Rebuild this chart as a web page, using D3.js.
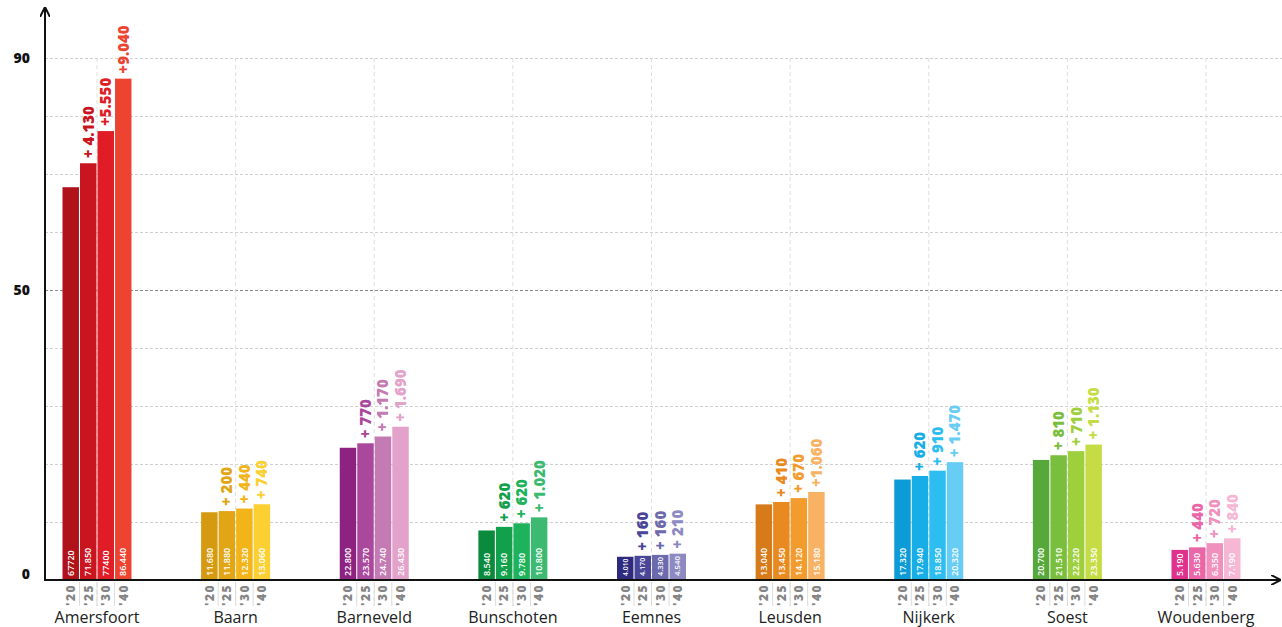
<!DOCTYPE html>
<html>
<head>
<meta charset="utf-8">
<script src="https://cdn.jsdelivr.net/npm/d3@7"></script>
<style>
  body { margin: 0; background: #fff; }
  svg { display: block; }
</style>
</head>
<body>
<div id="chart"></div>
<script>
// gemeenten + jaren
const gemeenten = ["Amersfoort", "Baarn", "Barneveld", "Bunschoten", "Eemnes", "Leusden", "Nijkerk", "Soest", "Woudenberg"]
const jaren = ["'20", "'25", "'30", "'40"]

// inwoners (x 1000) per jaar
const inw2020 = [67.72, 11.68, 22.80, 8.54, 4.01, 13.04, 17.32, 20.70, 5.19]
const inw2025 = [71.85, 11.88, 23.57, 9.16, 4.17, 13.45, 17.94, 21.51, 5.63]
const inw2030 = [77.40, 12.32, 24.74, 9.78, 4.33, 14.12, 18.85, 22.22, 6.35]
const inw2040 = [86.44, 13.06, 26.43, 10.80, 4.54, 15.18, 20.32, 23.35, 7.19]

// labels zoals in de plaat
const labels2020 = ["67720", "11.680", "22.800", "8.540", "4.010", "13.040", "17.320", "20.700", "5.190"]
const labels2025 = ["71.850", "11.880", "23.570", "9.160", "4.170", "13.450", "17.940", "21.510", "5.630"]
const labels2030 = ["77400", "12.320", "24.740", "9.780", "4.330", "14.120", "18.850", "22.220", "6.350"]
const labels2040 = ["86.440", "13.060", "26.430", "10.800", "4.540", "15.180", "20.320", "23.350", "7.190"]

// groei t.o.v. vorige periode
const groei2025 = ["+ 4.130", "+ 200", "+ 770", "+ 620", "+ 160", "+ 410", "+ 620", "+ 810", "+ 440"]
const groei2030 = ["+5.550", "+ 440", "+ 1.170", "+ 620", "+ 160", "+ 670", "+ 910", "+ 710", "+ 720"]
const groei2040 = ["+9.040", "+ 740", "+ 1.690", "+ 1.020", "+ 210", "+1.060", "+ 1.470", "+ 1.130", "+ 840"]

const yTicks = [0, 50, 90]

// kleuren per gemeente (donker -> licht)
const kleuren = [
    ["#b0121a", "#c9151f", "#e01d27", "#ec4431"],
    ["#d59a10", "#e2a513", "#f2b418", "#fcd033"],
    ["#8d2280", "#a9489c", "#c47ab3", "#e3a2ca"],
    ["#0a8a3d", "#13a04d", "#1db25b", "#3cba72"],
    ["#2e2b7f", "#4a4697", "#6d69ad", "#8d8ac1"],
    ["#d77a19", "#e98a21", "#f39b2d", "#f7b263"],
    ["#0c9bd6", "#17aee7", "#2dbdf0", "#68cdf5"],
    ["#57a83b", "#79bf3d", "#9ecf3d", "#c5dc45"],
    ["#e0318d", "#eb65a9", "#f091bd", "#f5b7d3"]
]

const W = 1282, H = 627
const margin = { top: 10, right: 2, bottom: 47, left: 45 }

const svg = d3.select("#chart")
    .append("svg")
    .attr("width", W)
    .attr("height", H)
    .style("font-family", "'Open Sans', sans-serif")

const x = d3.scalePoint()
    .domain(gemeenten)
    .range([97, 1206])

const xJaar = d3.scaleBand()
    .domain(jaren)
    .range([-34.5, 34.5])
    .paddingInner(0.06)

const y = d3.scaleLinear()
    .domain([0, 90])
    .range([580, 58])

// data in rijen
const data = gemeenten.map((g, i) => {
    const vals = [inw2020[i], inw2025[i], inw2030[i], inw2040[i]]
    const labs = [labels2020[i], labels2025[i], labels2030[i], labels2040[i]]
    const groei = [null, groei2025[i], groei2030[i], groei2040[i]]
    return {
        name: g,
        bars: jaren.map((j, k) => ({
            jaar: j,
            value: vals[k],
            label: labs[k],
            groei: groei[k],
            color: kleuren[i][k]
        }))
    }
})

// horizontale grid
svg.append("g")
    .attr("transform", "translate(" + margin.left + ",0)")
    .call(d3.axisRight(y).tickValues(d3.range(10, 100, 10)).tickSize(W - margin.left).tickFormat(""))
    .call(g => g.select(".domain").remove())
    .call(g => g.selectAll(".tick line")
        .attr("stroke", d => d === 50 ? "#8a8a8a" : "#cfcfcf")
        .attr("stroke-width", d => d === 50 ? 1.2 : 1)
        .attr("stroke-dasharray", "3,2"))

// verticale grid door het midden van elke gemeente
svg.append("g")
    .selectAll("line")
    .data(gemeenten)
    .enter()
    .append("line")
    .attr("x1", d => x(d))
    .attr("x2", d => x(d))
    .attr("y1", y(90))
    .attr("y2", 606)
    .attr("stroke", "#dedede")
    .attr("stroke-dasharray", "4,3")

// groepen
const groep = svg.selectAll(".groep")
    .data(data)
    .enter()
    .append("g")
    .attr("class", "groep")
    .attr("transform", d => "translate(" + x(d.name) + ",0)")

// scheidingslijntjes onder de as
groep.selectAll(".sep")
    .data(jaren.slice(1))
    .enter()
    .append("line")
    .attr("x1", d => xJaar(d) - 0.5)
    .attr("x2", d => xJaar(d) - 0.5)
    .attr("y1", 582)
    .attr("y2", 606)
    .attr("stroke", "#dcdcdc")

// staven
groep.selectAll("rect")
    .data(d => d.bars)
    .enter()
    .append("rect")
    .attr("x", d => xJaar(d.jaar))
    .attr("width", xJaar.bandwidth())
    .attr("y", d => y(d.value))
    .attr("height", d => y(0) - y(d.value))
    .attr("fill", d => d.color)

// waarden in de staven
groep.selectAll(".waarde")
    .data(d => d.bars)
    .enter()
    .append("text")
    .attr("class", "waarde")
    .attr("transform", d => "translate(" + (xJaar(d.jaar) + xJaar.bandwidth() / 2) + "," + (y(0) - 4) + ") rotate(-90)")
    .attr("dy", "0.35em")
    .text(d => d.label)
    .style("fill", "white")
    .style("font-weight", 600)
    .style("font-size", d => Math.min(9, (y(0) - y(d.value)) / 3.4) + "px")

// groei boven de staven
groep.selectAll(".groei")
    .data(d => d.bars.filter(b => b.groei))
    .enter()
    .append("text")
    .attr("class", "groei")
    .attr("transform", d => "translate(" + (xJaar(d.jaar) + xJaar.bandwidth() / 2) + "," + (y(d.value) - 5) + ") rotate(-90)")
    .attr("dy", "0.36em")
    .text(d => d.groei)
    .style("fill", d => d.color)
    .style("font-weight", 800)
    .style("font-size", "15px")

// jaartallen onder de as
groep.selectAll(".jaar")
    .data(jaren)
    .enter()
    .append("text")
    .attr("class", "jaar")
    .attr("transform", d => "translate(" + (xJaar(d) + xJaar.bandwidth() / 2) + ",584) rotate(-90)")
    .attr("dy", "0.36em")
    .attr("text-anchor", "end")
    .text(d => d)
    .style("fill", "#858585")
    .style("font-weight", 800)
    .style("font-size", "12px")
    .style("letter-spacing", "1.5px")

// gemeentenamen
groep.append("text")
    .attr("y", 623)
    .attr("text-anchor", "middle")
    .text(d => d.name)
    .style("fill", "#222")
    .style("font-size", "16px")

// assen met pijlen
const defs = svg.append("defs")
defs.append("marker")
    .attr("id", "pijl")
    .attr("viewBox", "0 0 10 10")
    .attr("refX", 9)
    .attr("refY", 5)
    .attr("markerWidth", 5)
    .attr("markerHeight", 5)
    .attr("orient", "auto")
    .append("path")
    .attr("d", "M0,0L10,5L0,10")
    .attr("fill", "none")
    .attr("stroke", "#111")
    .attr("stroke-width", 2)

svg.append("line")
    .attr("x1", margin.left)
    .attr("x2", margin.left)
    .attr("y1", y(0) + 1)
    .attr("y2", 8)
    .attr("stroke", "#111")
    .attr("stroke-width", 2)
    .attr("marker-end", "url(#pijl)")

svg.append("line")
    .attr("x1", margin.left - 1)
    .attr("x2", 1280)
    .attr("y1", y(0))
    .attr("y2", y(0))
    .attr("stroke", "#111")
    .attr("stroke-width", 2)
    .attr("marker-end", "url(#pijl)")

// y-labels
svg.append("g")
    .selectAll("text")
    .data(yTicks)
    .enter()
    .append("text")
    .attr("x", 30)
    .attr("y", d => y(d))
    .attr("dy", d => d === 0 ? "-0.05em" : "0.35em")
    .attr("text-anchor", "end")
    .text(d => d)
    .style("font-weight", 800)
    .style("font-size", "14px")
    .style("fill", "#111")
</script>
</body>
</html>
